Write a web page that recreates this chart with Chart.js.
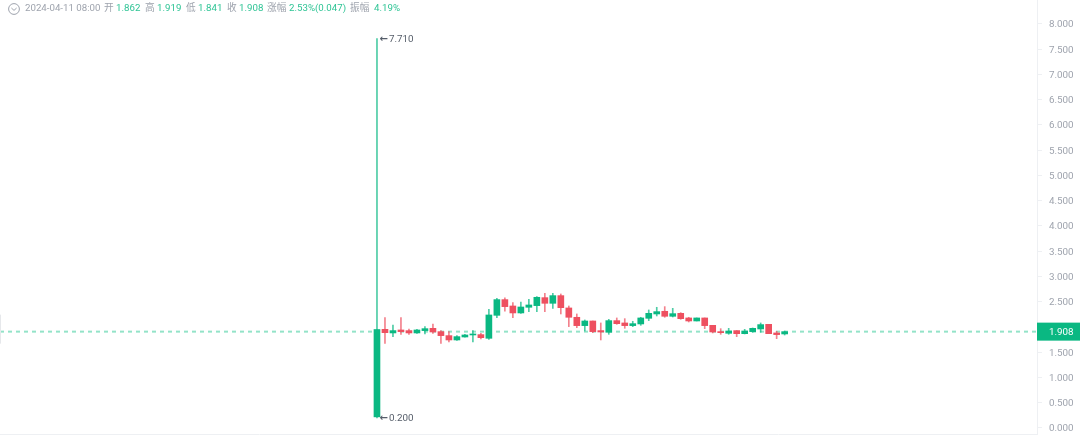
<!DOCTYPE html>
<html lang="zh">
<head>
<meta charset="UTF-8">
<title>K线</title>
<script src="https://cdn.jsdelivr.net/npm/chart.js"></script>
<style>
html,body{margin:0;padding:0;background:#fff;overflow:hidden;}
.wrap{position:relative;width:1080px;height:436px;}
canvas{position:absolute;left:0;top:0;}
.head{position:absolute;left:0;top:0;height:16px;font:9.7px/14px Roboto,"Noto Sans CJK SC",sans-serif;color:#9ea3ad;}
.head svg{position:absolute;left:8px;top:3px;}
.head span{position:absolute;top:1px;white-space:nowrap;}
.head .g{color:#2fc495;}
</style>
</head>
<body>
<div class="wrap">
  <canvas id="kline" width="1080" height="436"></canvas>
  <div class="head">
    <svg width="12" height="12" viewBox="0 0 12 12" fill="none" stroke="#9ea3ad" stroke-width="1"><circle cx="6" cy="6" r="5.4"/><path d="M3.4 5l2.6 2.4L8.6 5"/></svg>
    <span style="left:25px">2024-04-11 08:00</span>
    <span style="left:104px">开</span><span class="g" style="left:116px">1.862</span>
    <span style="left:145px">高</span><span class="g" style="left:157px">1.919</span>
    <span style="left:186px">低</span><span class="g" style="left:198px">1.841</span>
    <span style="left:227px">收</span><span class="g" style="left:239px">1.908</span>
    <span style="left:267px">涨幅</span><span class="g" style="left:289px">2.53%(0.047)</span>
    <span style="left:350px">振幅</span><span class="g" style="left:374px">4.19%</span>
  </div>
</div>

<script>
Chart.defaults.animation=false;

const opens =[0.220,1.954,1.882,1.941,1.928,1.882,1.928,1.974,1.908,1.829,1.743,1.802,1.842,1.849,1.776,2.231,2.542,2.416,2.278,2.390,2.423,2.581,2.469,2.621,2.377,2.192,2.027,
              2.119,1.928,1.895,2.126,2.080,2.027,2.060,2.172,2.258,2.311,2.212,2.271,2.179,2.119,2.179,2.033,1.908,1.875,1.928,1.868,1.908,1.961,2.053,1.882,1.862];
const closes=[1.950,1.888,1.928,1.908,1.882,1.941,1.967,1.901,1.829,1.743,1.809,1.842,1.862,1.789,2.238,2.542,2.403,2.278,2.396,2.436,2.588,2.469,2.621,2.383,2.192,2.027,2.119,
              1.908,1.901,2.126,2.066,2.027,2.066,2.179,2.271,2.304,2.212,2.264,2.165,2.119,2.179,2.027,1.901,1.888,1.921,1.868,1.921,1.974,2.047,1.868,1.849,1.908];
const highs =[7.710,2.185,2.040,2.185,1.961,1.954,2.007,2.060,1.928,1.908,1.829,1.855,1.928,1.875,2.350,2.568,2.575,2.482,2.495,2.548,2.601,2.667,2.667,2.654,2.416,2.258,2.139,
              2.119,2.080,2.152,2.179,2.165,2.113,2.192,2.337,2.390,2.403,2.370,2.284,2.192,2.179,2.179,2.033,1.967,1.974,1.928,1.954,1.981,2.080,2.053,1.915,1.919];
const lows  =[0.200,1.677,1.809,1.855,1.855,1.875,1.862,1.875,1.677,1.703,1.736,1.796,1.703,1.763,1.756,2.185,2.311,2.185,2.271,2.304,2.304,2.304,2.370,2.258,2.007,1.987,1.921,
              1.888,1.743,1.855,2.053,1.974,2.007,2.033,2.126,2.218,2.192,2.198,2.152,2.099,2.119,1.967,1.882,1.855,1.855,1.809,1.862,1.895,1.895,1.868,1.769,1.841];
const yTicks=[0,0.5,1,1.5,2,2.5,3,3.5,4,4.5,5,5.5,6,6.5,7,7.5,8];
const lastPrice=1.908;
const hiMark=7.710, loMark=0.200, markIndex=0;

const GREEN="#0ab882", RED="#ee5060";
const LINE="#eef0f3", TICK="#9ea3ad";
const X_MIN=-47.16, X_MAX=82.57;
const Y_MIN=-0.119, Y_MAX=8.475;

const isUp=i=>closes[i]>=opens[i];
const colors=opens.map((v,i)=>isUp(i)?GREEN:RED);
const wickColors=opens.map((v,i)=>isUp(i)?"rgba(10,184,130,.72)":"rgba(238,80,96,.72)");

/* ── high/low notes + last price tag ───────────────────────────── */
const notes={
  id:"notes",
  afterDatasetsDraw(c){
    const {ctx,scales:{x,y}}=c;
    ctx.save();
    ctx.textBaseline="middle";
    ctx.fillStyle="#555d69";
    const mx=x.getPixelForValue(markIndex);
    [hiMark,loMark].forEach(v=>{
      const py=y.getPixelForValue(v)+0.5;
      ctx.font='bold 10px "DejaVu Sans",sans-serif';
      ctx.fillText("←",mx+2.5,py);
      ctx.font='9.8px Roboto,sans-serif';
      ctx.fillText(v.toFixed(3),mx+12,py);
    });
    ctx.restore();
  },
  afterDraw(c){
    const {ctx,chartArea:a,scales:{y}}=c;
    const py=y.getPixelForValue(lastPrice);
    ctx.save();
    ctx.fillStyle=GREEN;
    ctx.fillRect(a.right,py-9,43,18);
    ctx.fillStyle="#fff";
    ctx.font='9.8px Roboto,sans-serif';
    ctx.textBaseline="middle";
    ctx.fillText(lastPrice.toFixed(3),a.right+12,py+0.5);
    ctx.fillStyle="#e6e8eb";
    ctx.fillRect(0,py-17,1,29);
    ctx.restore();
  }
};

new Chart(document.getElementById("kline"),{
  type:"bar",
  data:{datasets:[
    {type:"line",data:[{x:X_MIN,y:lastPrice},{x:X_MAX,y:lastPrice}],
     borderColor:"#93e3c8",borderWidth:2,borderDash:[4,4],pointRadius:0,order:3},
    {data:highs.map((h,i)=>({x:i,y:[lows[i],h]})),backgroundColor:wickColors,barThickness:1,grouped:false,order:2},
    {data:opens.map((o,i)=>({x:i,y:[o,closes[i]]})),backgroundColor:colors,barThickness:6,grouped:false,order:1}
  ]},
  options:{
    responsive:false,
    layout:{padding:0},
    plugins:{legend:{display:false},tooltip:{enabled:false}},
    scales:{
      x:{type:"linear",offset:false,min:X_MIN,max:X_MAX,
         grid:{display:false},border:{color:LINE},ticks:{display:false},
         afterFit(s){s.height=2;s.paddingLeft=0;s.paddingRight=0;}},
      y:{position:"right",min:Y_MIN,max:Y_MAX,
         grid:{drawOnChartArea:false,tickLength:5,color:LINE},
         border:{color:LINE},
         afterBuildTicks(s){s.ticks=yTicks.map(v=>({value:v}));},
         afterFit(s){s.width=43;s.paddingTop=0;s.paddingBottom=0;},
         ticks:{color:TICK,padding:7,labelOffset:1,font:{family:"Roboto",size:9.8},autoSkip:false,
                callback:v=>v.toFixed(3)}}
    }
  },
  plugins:[notes]
});
</script>
</body>
</html>
